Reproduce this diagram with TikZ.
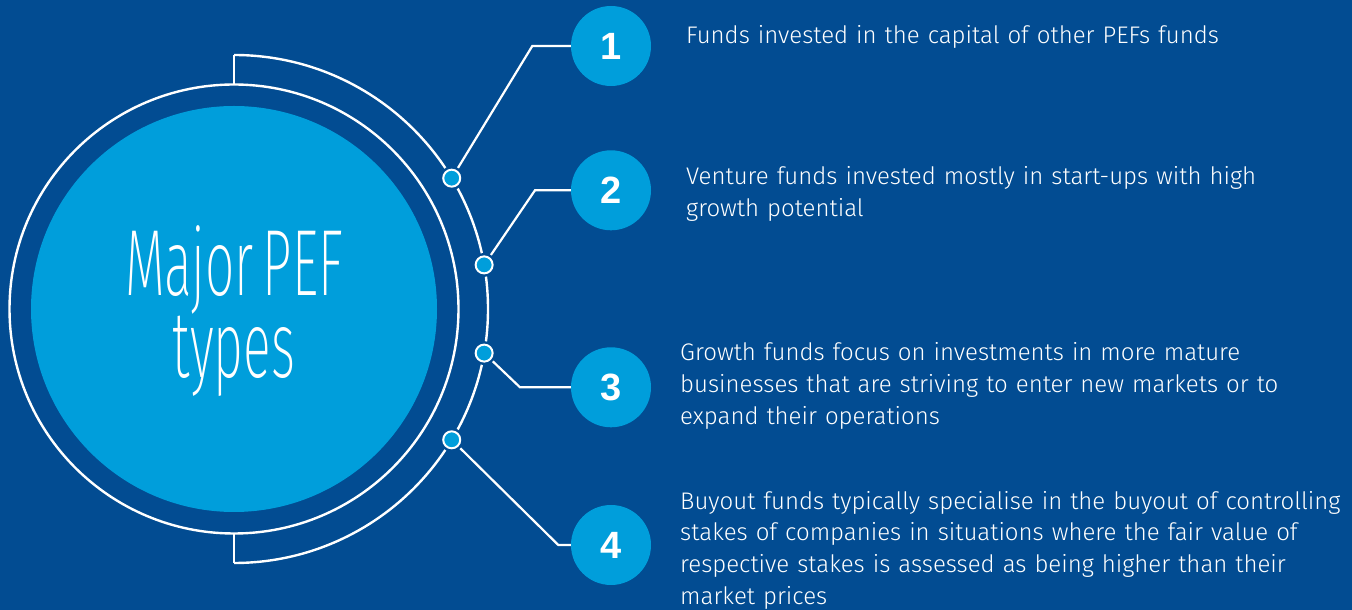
\documentclass[tikz,border=0pt]{standalone}
\usepackage{fontspec}
\setmainfont{Liberation Sans}
\newfontfamily\titlefont{Fira Sans ExtraLight}[FakeStretch=0.55]
\newfontfamily\bodyfont{Fira Sans Light}[WordSpace=0.85]
\newfontfamily\numfont{Liberation Sans}
\definecolor{bg}{RGB}{2,76,146}
\definecolor{lb}{RGB}{0,158,219}
\begin{document}
\begin{tikzpicture}[x=1pt,y=1pt,
  wl/.style={draw=white, line width=2.4},
  cl/.style={draw=white, line width=2.2, shorten <=2.5},
  dot/.style={circle, fill=lb, draw=white, line width=2, minimum size=17, inner sep=0, preaction={draw=bg, line width=7}},
  num/.style={circle, fill=lb, minimum size=80, inner sep=0, text=white, font=\numfont\bfseries\fontsize{38}{38}\selectfont},
  txt/.style={text=white, font=\bodyfont\fontsize{24}{31.7}\selectfont, align=left, inner sep=0, text width=670, anchor=base west}]
\useasboundingbox (0,0) rectangle (1352,610);
\fill[bg] (0,0) rectangle (1352,610);
\coordinate (C) at (234,301);
\fill[lb] (C) circle[radius=203];
\draw[wl] (C) circle[radius=224.5];
\draw[wl] ([shift={(90:254)}]C) arc[start angle=90, end angle=-90, radius=254];
\coordinate (tA) at ([shift={(90:224.5)}]C);
\coordinate (tB) at ([shift={(90:254)}]C);
\coordinate (bA) at ([shift={(-90:224.5)}]C);
\coordinate (bB) at ([shift={(-90:254)}]C);
\draw[wl] (tA) -- (tB);
\draw[wl] (bA) -- (bB);
\node[dot] (d1) at ([shift={(31:254)}]C) {};
\node[dot] (d2) at ([shift={(10:254)}]C) {};
\node[dot] (d3) at ([shift={(-10:254)}]C) {};
\node[dot] (d4) at ([shift={(-31:254)}]C) {};
\node[num] (n1) at (611,564) {1};
\node[num] (n2) at (611,419.7) {2};
\node[num] (n3) at (611,222.7) {3};
\node[num] (n4) at (611,65) {4};
\coordinate (e1) at (532.3,564);
\coordinate (e2) at (535,419.7);
\coordinate (e3) at (520,222.7);
\coordinate (e4) at (558.3,65);
\draw[cl] (d1) -- (e1) -- (n1);
\draw[cl] (d2) -- (e2) -- (n2);
\draw[cl] (d3) -- (e3) -- (n3);
\draw[cl] (d4) -- (e4) -- (n4);
\node[anchor=base, align=center, text width=420, inner sep=0, text=white, font=\titlefont\fontsize{94}{80}\selectfont] (title) at (234,314) {Major\hspace{9pt}PEF\\types};
\node[txt] (t1) at (686,566.3) {Funds invested in the capital of other PEFs funds};
\node[txt] (t2) at (686,425) {Venture funds invested mostly in start-ups with high\\growth potential};
\node[txt] (t3) at (680,249.3) {Growth funds focus on investments in more mature\\businesses that are striving to enter new markets or to\\expand their operations};
\node[txt] (t4) at (680,100.7) {Buyout funds typically specialise in the buyout of controlling\\stakes of companies in situations where the fair value of\\respective stakes is assessed as being higher than their\\market prices};
\end{tikzpicture}
\end{document}
